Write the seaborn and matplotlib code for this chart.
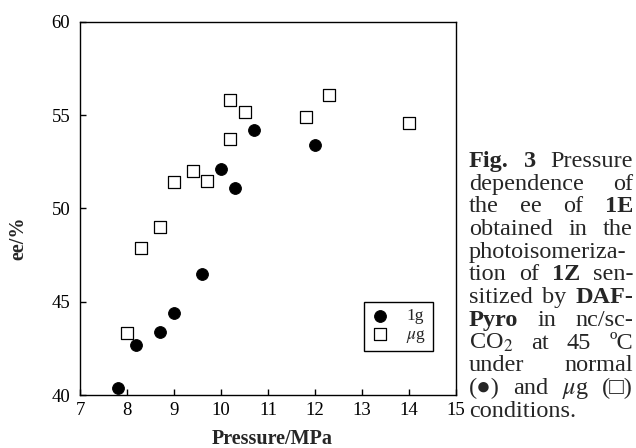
import matplotlib
matplotlib.use("Agg")
import pandas as pd
import matplotlib.pyplot as plt
import seaborn as sns

# 1g (filled circles) and μg (open squares)
p_1g = [7.8, 8.2, 8.7, 9.0, 9.6, 10.0, 10.3, 10.7, 12.0]
ee_1g = [40.4, 42.7, 43.4, 44.4, 46.5, 52.1, 51.1, 54.2, 53.4]

p_ug = [8.0, 8.3, 8.7, 9.0, 9.4, 9.7, 10.2, 10.2, 10.5, 11.8, 12.3, 14.0]
ee_ug = [43.3, 47.9, 49.0, 51.4, 52.0, 51.5, 55.8, 53.7, 55.2, 54.9, 56.1, 54.6]

x_ticks = [7, 8, 9, 10, 11, 12, 13, 14, 15]
y_ticks = [40, 45, 50, 55, 60]

# caption lines, (word, bold)
caption = [
    [("Fig.", True), ("3", True), ("Pressure", False)],
    [("dependence", False), ("of", False)],
    [("the", False), ("ee", False), ("of", False), ("1E", True)],
    [("obtained", False), ("in", False), ("the", False)],
    [("photoisomeriza-", False)],
    [("tion", False), ("of", False), ("1Z", True), ("sen-", False)],
    [("sitized", False), ("by", False), ("DAF-", True)],
    [("Pyro", True), ("in", False), ("nc/sc-", False)],
    [("CO$_2$", False), ("at", False), ("45", False), ("ºC", False)],
    [("under", False), ("normal", False)],
    [("(●)", False), ("and", False), ("$\\mu$g", False), ("(□)", False)],
    [("conditions.", False)],
]

sns.set_theme(style="ticks")
plt.rcParams["font.family"] = ["Liberation Serif", "DejaVu Sans"]
plt.rcParams["mathtext.fontset"] = "stix"

W, H = 636, 448
fig = plt.figure(figsize=(W / 100, H / 100), dpi=100)
ax = fig.add_axes([80 / W, 1 - 395 / H, 376 / W, 373 / H])

df_1g = pd.DataFrame({"pressure": p_1g, "ee": ee_1g})
df_ug = pd.DataFrame({"pressure": p_ug, "ee": ee_ug})

sns.scatterplot(data=df_1g, x="pressure", y="ee", marker="o", color="black",
                edgecolor="black", s=72, label="1g", ax=ax, zorder=3)
sns.scatterplot(data=df_ug, x="pressure", y="ee", marker="s", facecolor="white",
                edgecolor="black", linewidth=0.9, s=80, label="$\\mu$g", ax=ax, zorder=3)

ax.set_xlim(7, 15)
ax.set_ylim(40, 60)
ax.set_xticks(x_ticks)
ax.set_yticks(y_ticks)
ax.tick_params(direction="in", length=4, width=1, colors="black", labelsize=13.5,
               top=False, right=False)
ax.tick_params(axis="x", pad=5)
ax.tick_params(axis="y", pad=7)
for sp in ax.spines.values():
    sp.set_visible(True)
    sp.set_color("black")
    sp.set_linewidth(1)

ax.set_xlabel("Pressure/MPa", fontsize=14.5, fontweight="bold")
ax.set_ylabel("ee/%", fontsize=14.5, fontweight="bold")
ax.xaxis.set_label_coords(0.51, -0.09)
ax.yaxis.set_label_coords(-0.138, 0.42)

leg = ax.legend(loc="lower left", bbox_to_anchor=(0.755, 0.118), borderaxespad=0,
                frameon=True, fancybox=False, framealpha=1, edgecolor="black",
                fontsize=12.5, handlelength=1.2, handletextpad=0.9,
                borderpad=0.35, labelspacing=0.15)
leg.get_frame().set_linewidth(1)

# justified caption block on the right
cap_left, cap_right = 469, 633
base0, step = 167, 22.7
cap_size = 17.5
renderer = fig.canvas.get_renderer()
for i, line in enumerate(caption):
    texts = []
    for word, bold in line:
        t = fig.text(0, 0, word, fontsize=cap_size,
                     fontweight="bold" if bold else "normal",
                     family=["Liberation Serif", "DejaVu Sans"], va="baseline", ha="left")
        texts.append(t)
    widths = [t.get_window_extent(renderer).width for t in texts]
    y = 1 - (base0 + i * step) / H
    last = i == len(caption) - 1
    if len(texts) > 1 and not last:
        gap = (cap_right - cap_left - sum(widths)) / (len(texts) - 1)
    else:
        gap = 6
    x = cap_left
    for t, w in zip(texts, widths):
        t.set_position((x / W, y))
        x += w + gap

fig.savefig("out.png", dpi=100)
